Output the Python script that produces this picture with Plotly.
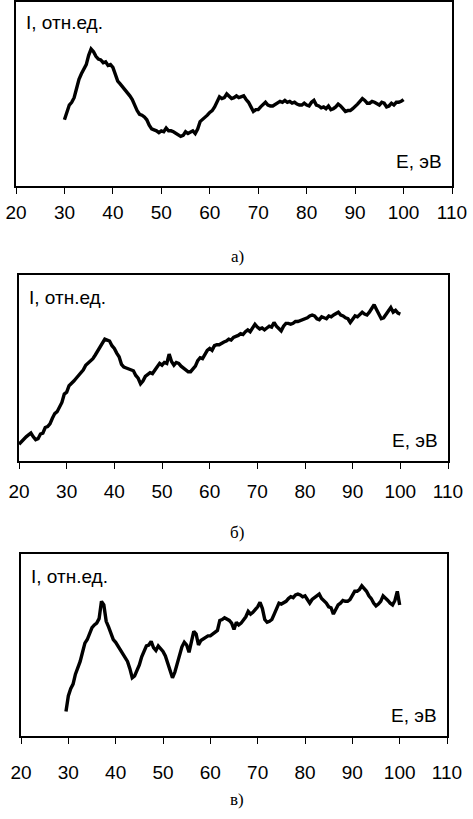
import plotly.graph_objects as go

# energy grids, eV (step 0.5)
energy_a = [30 + 0.5 * i for i in range(141)]
energy_b = [20 + 0.5 * i for i in range(161)]
energy_c = [29.5 + 0.5 * i for i in range(142)]

# intensity, rel. units (0 = axis, 100 = top of frame)
intensity_a = [
    36, 39.5, 44, 45.5, 48, 53, 58, 61, 64, 66, 71, 74.5, 73, 70.5, 69, 68.5,
    67, 67.5, 65.5, 66, 64.5, 61, 57, 55.5, 54, 52.5, 51, 49, 47, 43.5, 41, 39,
    38.5, 37.5, 36, 33, 31, 30.5, 30, 29, 30, 29.5, 31.5, 30, 30, 29.5, 28.5, 28,
    27, 27.5, 29.5, 28.5, 29.5, 30, 28.5, 31, 35, 36, 37.5, 38.5, 40, 41, 43, 46,
    48.5, 47.5, 48, 50, 49, 47.5, 48, 49, 48, 48.5, 49, 47, 45.5, 43, 40.5, 41.5,
    41.5, 43, 44, 45.5, 44, 43.5, 43.5, 44.5, 45, 46, 45.5, 46.5, 45.5, 46, 45,
    45.5, 44.5, 44, 44, 45, 44, 43.5, 45.5, 46.5, 44, 43.5, 42.5, 43, 42, 43.5,
    41.5, 42, 43, 44.5, 43.5, 42, 40.5, 41, 41, 42, 43, 44.5, 46, 47.5, 46.5, 45,
    45, 46, 45.5, 44.5, 44, 45.5, 45, 43, 43.5, 45, 44, 45.5, 45.5, 46, 47,
]
intensity_b = [
    9, 10.5, 11.5, 13, 14, 15, 13, 11.5, 12, 14.5, 15, 18, 18.5, 20, 23, 25.5,
    26.5, 29, 31.5, 36, 37, 40.5, 41.5, 43, 44.5, 46, 47, 49, 51.5, 52.5, 54, 55,
    57, 59, 61, 63.5, 65.5, 65, 64.5, 62, 60.5, 58, 56, 52, 50.5, 50, 49.5, 49,
    48.5, 46, 44.5, 41.5, 43, 45.5, 46.5, 47.5, 47, 49, 50.5, 52.5, 51.5, 53,
    52.5, 57.5, 53.5, 51.5, 53, 52.5, 51, 50, 49, 48, 48, 49.5, 51, 54, 55.5, 55,
    57, 59.5, 60.5, 59.5, 62, 62.5, 62.5, 63.5, 64, 64.5, 65.5, 65, 66.5, 67,
    67.5, 68.5, 68, 69.5, 70.5, 69.5, 72, 73.5, 72, 71, 71.5, 70.5, 71.5, 72.5,
    72, 74.5, 72.5, 71, 70, 72.5, 74, 74, 73.5, 74, 75, 75, 75.5, 76, 76.5, 77,
    78, 78.5, 78, 76.5, 76, 77.5, 77, 76.5, 78, 77.5, 78.5, 79.5, 80, 78.5, 78,
    77, 76.5, 74.5, 76.5, 78, 77.5, 79, 80, 79, 78.5, 80, 82, 84, 81.5, 78.5,
    76.5, 77, 79, 80.5, 82.5, 80, 81, 79.5, 79,
]
intensity_c = [
    13.5, 22, 26, 28.5, 34, 37, 41, 46, 51, 53, 56, 59.5, 61, 62, 64.5, 74, 72,
    63, 60, 56, 53, 51.5, 49.5, 47, 45.5, 43.5, 41, 37, 32, 33, 36, 39, 43.5, 47,
    49.5, 50, 52, 48.5, 47, 49.5, 48, 46.5, 44, 40, 36, 32, 35, 40, 45, 49, 51.5,
    50, 46, 53, 57.5, 56, 50, 52.5, 53.5, 54, 55, 55, 56, 57.5, 58, 63.5, 64, 65,
    64.5, 63.5, 62, 58.5, 62.5, 61, 62, 63.5, 65.5, 68.5, 67, 68, 69.5, 71, 73.5,
    70, 64, 62.5, 63, 64, 67, 70, 73, 72.5, 73, 74, 75.5, 76.5, 76, 77.5, 78,
    77.5, 76.5, 77, 75, 73, 75, 76, 77, 78, 75.5, 74.5, 73, 71, 70.5, 67, 70, 72,
    73, 74.5, 74, 74, 75, 77.5, 79.5, 79.5, 80.5, 82.5, 81, 79.5, 77, 75.5, 73,
    71.5, 72.5, 74, 77, 76, 74.5, 73, 72, 74.5, 79.5, 72,
]

tick_values = [20, 30, 40, 50, 60, 70, 80, 90, 100, 110]
panel_labels = ["а)", "б)", "в)"]
y_label = "I, отн.ед."
x_label = "E, эВ"

W, H = 473, 819
# frames in pixels: left, right, top, bottom(axis)
frames = [(16, 452, 2, 186), (19, 448, 275, 461), (21, 447, 554, 736)]
standoffs = [2, 6, 12]
caption_y = [256, 532, 799]
ylabel_y = [22, 297, 576]
xlabel_y = [162, 440, 715]

series = [(energy_a, intensity_a), (energy_b, intensity_b), (energy_c, intensity_c)]

fig = go.Figure()
layout = {}
annotations = []

for i, ((l, r, t, b), (ex, iy)) in enumerate(zip(frames, series)):
    n = "" if i == 0 else str(i + 1)
    fig.add_trace(go.Scatter(
        x=ex, y=iy, mode="lines",
        line=dict(color="black", width=3.4),
        xaxis="x" + n, yaxis="y" + n, showlegend=False,
    ))
    layout["xaxis" + n] = dict(
        domain=[l / W, r / W], anchor="y" + n, range=[20, 110],
        tickvals=tick_values, ticks="outside", ticklen=6, tickwidth=1,
        tickcolor="black", showline=True, linecolor="black", linewidth=2,
        mirror=True, showgrid=False, zeroline=False, automargin=False,
        ticklabelstandoff=standoffs[i],
        tickfont=dict(family="Liberation Sans, Arial", size=19, color="black"),
    )
    layout["yaxis" + n] = dict(
        domain=[1 - b / H, 1 - t / H], anchor="x" + n, range=[0, 100],
        showticklabels=False, ticks="", showline=True, linecolor="black",
        linewidth=1.5, mirror=True, showgrid=False, zeroline=False,
        automargin=False,
    )
    annotations.append(dict(
        text=y_label, x=(l + 8) / W, y=1 - ylabel_y[i] / H, xref="paper",
        yref="paper", xanchor="left", yanchor="middle", showarrow=False,
        font=dict(family="Liberation Sans, Arial", size=19, color="black"),
    ))
    annotations.append(dict(
        text=x_label, x=(r - 8) / W, y=1 - xlabel_y[i] / H, xref="paper",
        yref="paper", xanchor="right", yanchor="middle", showarrow=False,
        font=dict(family="Liberation Sans, Arial", size=19, color="black"),
    ))
    annotations.append(dict(
        text=panel_labels[i], x=237 / W, y=1 - caption_y[i] / H, xref="paper",
        yref="paper", xanchor="center", yanchor="middle", showarrow=False,
        font=dict(family="Liberation Serif, Times New Roman", size=17, color="black"),
    ))

fig.update_layout(
    width=W, height=H,
    margin=dict(l=0, r=0, t=0, b=0),
    paper_bgcolor="white", plot_bgcolor="white",
    annotations=annotations,
    **layout,
)

# page body has a default 8px margin; drop it so the figure fills the window
fig.write_html(
    "out.html",
    config={"displayModeBar": False},
    post_script="document.body.style.margin='0px';",
)
